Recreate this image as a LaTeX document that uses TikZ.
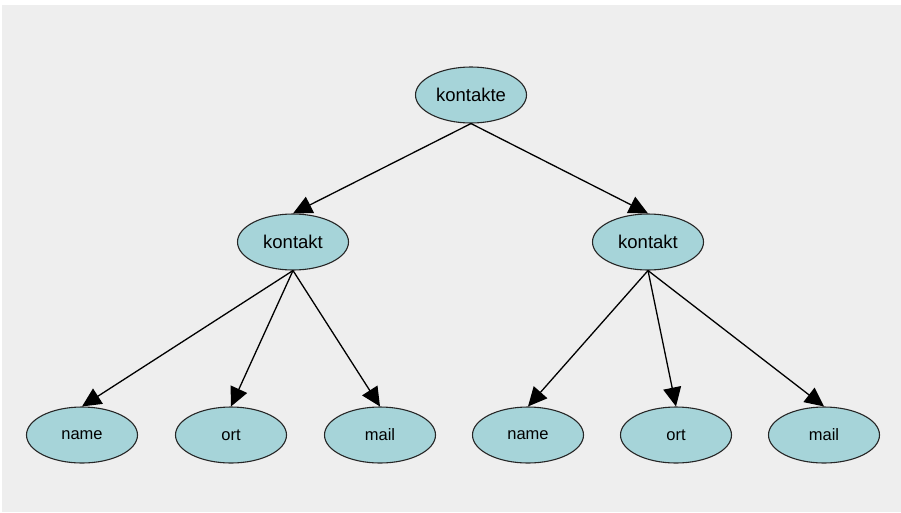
\documentclass[tikz,border=0pt]{standalone}
\usepackage{fontspec}
\setmainfont{Liberation Sans}
\usetikzlibrary{shapes.geometric,arrows.meta}
\definecolor{pane}{HTML}{EEEEEE}
\definecolor{bubble}{HTML}{A6D4D9}
\tikzset{
  elem/.style={ellipse, draw=black!85, line width=1.1pt, fill=bubble,
    minimum width=111pt, minimum height=56pt, inner sep=0pt},
  inner/.style={elem, font=\fontsize{18.5}{20}\selectfont},
  leaf/.style={elem, font=\fontsize{16.5}{18}\selectfont},
  link/.style={draw=black, line width=1.3pt,
    -{Triangle[length=19pt,width=18pt]}},
}
\begin{document}
\begin{tikzpicture}[x=1pt,y=-1pt]
  \useasboundingbox (0,0) rectangle (901,512);
  \fill[white] (0,0) rectangle (901,512);
  \fill[pane] (2,5) rectangle (901,512);

  \node[inner] (root) at (471,95) {kontakte};
  \node[inner] (k1) at (293,242) {kontakt};
  \node[inner] (k2) at (648,242) {kontakt};

  \node[leaf] (n1) at (82,435) {name};
  \node[leaf] (o1) at (231,435) {ort};
  \node[leaf] (m1) at (380,435) {mail};
  \node[leaf] (n2) at (528,435) {name};
  \node[leaf] (o2) at (676,435) {ort};
  \node[leaf] (m2) at (824,435) {mail};

  \draw[link] (root.south) -- (k1.north);
  \draw[link] (root.south) -- (k2.north);
  \draw[link] (k1.south) -- (n1.north);
  \draw[link] (k1.south) -- (o1.north);
  \draw[link] (k1.south) -- (m1.north);
  \draw[link] (k2.south) -- (n2.north);
  \draw[link] (k2.south) -- (o2.north);
  \draw[link] (k2.south) -- (m2.north);
\end{tikzpicture}
\end{document}
